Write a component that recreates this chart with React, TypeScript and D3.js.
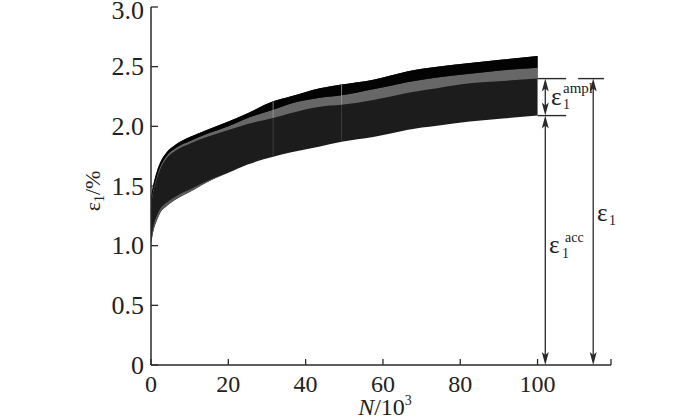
import React from "react";
import * as d3 from "d3";

// ---- data ----
const cycles = [0, 0.3, 0.6, 1.5, 2.3, 4, 6.5, 10, 14.4, 20, 25, 31.6, 36, 43.7, 49.3, 57.5, 62, 66.2, 74, 82.5, 91, 100];
const upperStrain = [1.40, 1.46, 1.51, 1.62, 1.69, 1.78, 1.85, 1.91, 1.97, 2.04, 2.11, 2.21, 2.25, 2.32, 2.35, 2.39, 2.425, 2.46, 2.50, 2.53, 2.56, 2.59];
const grayTop = [1.36, 1.42, 1.47, 1.58, 1.655, 1.75, 1.82, 1.875, 1.935, 2.00, 2.07, 2.14, 2.19, 2.24, 2.26, 2.31, 2.34, 2.37, 2.41, 2.44, 2.47, 2.49];
const grayBottom = [1.34, 1.40, 1.45, 1.56, 1.635, 1.73, 1.80, 1.855, 1.91, 1.97, 2.02, 2.07, 2.11, 2.165, 2.18, 2.22, 2.25, 2.28, 2.32, 2.36, 2.38, 2.40];
const lowerStrain = [1.02, 1.07, 1.12, 1.21, 1.27, 1.33, 1.39, 1.45, 1.53, 1.61, 1.68, 1.745, 1.78, 1.83, 1.87, 1.91, 1.94, 1.97, 2.005, 2.04, 2.065, 2.09];
const lowerFringeTop = [1.06, 1.11, 1.16, 1.25, 1.305, 1.36, 1.415, 1.47, 1.54, 1.61, 1.68, 1.745, 1.78, 1.83, 1.87, 1.91, 1.94, 1.97, 2.005, 2.04, 2.065, 2.09];
const gapCycles = [31.6, 49.3];

const xTicks = [0, 20, 40, 60, 80, 100];
const yTicks = [0, 0.5, 1.0, 1.5, 2.0, 2.5, 3.0];
const yTickLabels = ["0", "0.5", "1.0", "1.5", "2.0", "2.5", "3.0"];

const accArrowN = 102;
const totArrowN = 114.4;

type Row = { n: number; up: number; gt: number; gb: number; lo: number; fr: number };

export default function App() {
  const W = 700, H = 420;
  const x = d3.scaleLinear().domain([0, 119]).range([151, 611]);
  const y = d3.scaleLinear().domain([0, 3]).range([365, 7]);

  const rows: Row[] = cycles.map((n, i) => ({
    n,
    up: upperStrain[i],
    gt: grayTop[i],
    gb: grayBottom[i],
    lo: lowerStrain[i],
    fr: lowerFringeTop[i],
  }));

  const mk = (a: (r: Row) => number, b: (r: Row) => number) =>
    d3.area<Row>().x((r) => x(r.n)).y0((r) => y(a(r))).y1((r) => y(b(r))).curve(d3.curveMonotoneX)(rows) || "";

  const bandPath = mk((r) => r.lo, (r) => r.up);
  const fringePath = mk((r) => r.lo, (r) => r.fr);
  const grayPath = mk((r) => r.gb, (r) => r.gt);
  const blackPath = mk((r) => r.gt, (r) => r.up);

  const interp = (arr: number[], n: number) => {
    const i = d3.bisectRight(cycles, n) - 1;
    const j = Math.min(i + 1, cycles.length - 1);
    if (i === j) return arr[i];
    const t = (n - cycles[i]) / (cycles[j] - cycles[i]);
    return arr[i] + t * (arr[j] - arr[i]);
  };

  const last = cycles.length - 1;
  const yAmplTop = y(grayBottom[last]);
  const yAccTop = y(lowerStrain[last]);
  const y0 = y(0);
  const xEnd = x(cycles[last]);
  const xa = x(accArrowN);
  const xt = x(totArrowN);

  const head = (cx: number, tip: number, up: boolean) => {
    const s = up ? 1 : -1;
    return `M${cx},${tip} L${cx - 3.5},${tip + s * 13} L${cx},${tip + s * 10} L${cx + 3.5},${tip + s * 13} Z`;
  };

  const serif = '"Liberation Serif", "Times New Roman", Times, "DejaVu Serif", serif';
  const ink = "#2a2a2a";
  const txt = { fontFamily: serif };

  return (
    <svg width={W} height={H} style={{ position: "absolute", left: 0, top: 0, background: "#fff" }}>
      {/* band */}
      <path d={bandPath} fill="#1c1c1c" />
      <path d={fringePath} fill="#5a5a5a" />
      <path d={grayPath} fill="#676767" />
      <path d={blackPath} fill="#030303" />
      {gapCycles.map((n) => (
        <g key={n}>
          <line x1={x(n)} x2={x(n)} y1={y(interp(grayBottom, n))} y2={y(interp(upperStrain, n))}
            stroke="#9a9a9a" strokeWidth={1} opacity={0.8} />
          <line x1={x(n)} x2={x(n)} y1={y(interp(lowerStrain, n))} y2={y(interp(grayBottom, n))}
            stroke="#3c3c3c" strokeWidth={1} />
        </g>
      ))}

      {/* axes */}
      <line x1={x(0)} x2={x(119)} y1={y0} y2={y0} stroke={ink} strokeWidth={1.5} />
      <line x1={x(0)} x2={x(0)} y1={y0} y2={y(3)} stroke={ink} strokeWidth={1.5} />
      {xTicks.concat([119]).map((t) => (
        <line key={"xt" + t} x1={x(t)} x2={x(t)} y1={y0} y2={y0 - 6} stroke={ink} strokeWidth={1.3} />
      ))}
      {yTicks.map((t) => (
        <line key={"yt" + t} x1={x(0)} x2={x(0) + 7} y1={y(t)} y2={y(t)} stroke={ink} strokeWidth={1.3} />
      ))}
      {xTicks.map((t) => (
        <text key={"xl" + t} x={x(t)} y={392} textAnchor="middle" style={txt} fontSize={24} fill="#222">
          {t}
        </text>
      ))}
      {yTicks.map((t, i) => (
        <text key={"yl" + t} x={144} y={Math.max(y(t) + 8.5, 19)} textAnchor="end" style={txt} fontSize={26} fill="#222">
          {yTickLabels[i]}
        </text>
      ))}

      {/* axis titles */}
      <text x={385} y={415} textAnchor="middle" style={txt} fontSize={24} fill="#222">
        <tspan fontStyle="italic">N</tspan>
        <tspan>/10</tspan>
        <tspan fontSize={14} dy={-10}>3</tspan>
      </text>
      <text transform="translate(100,191) rotate(-90)" textAnchor="middle" style={txt} fontSize={22} fill="#222">
        <tspan>ε</tspan>
        <tspan fontSize={14} dy={4}>1</tspan>
        <tspan dy={-4}>/%</tspan>
      </text>

      {/* annotation guide lines */}
      <line x1={xEnd} x2={x(107.4)} y1={yAmplTop} y2={yAmplTop} stroke={ink} strokeWidth={1.4} />
      <line x1={x(110.5)} x2={x(117.2)} y1={yAmplTop} y2={yAmplTop} stroke={ink} strokeWidth={1.4} />
      <line x1={xEnd} x2={x(107.4)} y1={yAccTop} y2={yAccTop} stroke={ink} strokeWidth={1.4} />

      {/* amplitude arrow */}
      <line x1={xa} x2={xa} y1={yAmplTop + 4} y2={yAccTop - 4} stroke={ink} strokeWidth={1.3} />
      <path d={head(xa, yAmplTop, true)} fill={ink} />
      <path d={head(xa, yAccTop, false)} fill={ink} />
      {/* accumulated arrow */}
      <line x1={xa} x2={xa} y1={yAccTop + 4} y2={y0 - 4} stroke={ink} strokeWidth={1.3} />
      <path d={head(xa, yAccTop, true)} fill={ink} />
      <path d={head(xa, y0, false)} fill={ink} />
      {/* total arrow */}
      <line x1={xt} x2={xt} y1={yAmplTop + 4} y2={y0 - 4} stroke={ink} strokeWidth={1.3} />
      <path d={head(xt, yAmplTop, true)} fill={ink} />
      <path d={head(xt, y0, false)} fill={ink} />

      {/* labels */}
      <g style={txt} fill="#222">
        <text x={551} y={105} fontSize={25}>ε</text>
        <text x={563} y={109} fontSize={14}>1</text>
        <text x={563} y={93} fontSize={15}>ampl</text>

        <text x={549} y={253} fontSize={25}>ε</text>
        <text x={562} y={258} fontSize={14}>1</text>
        <text x={565} y={242} fontSize={14}>acc</text>

        <text x={597} y={221} fontSize={25}>ε</text>
        <text x={609} y={225} fontSize={14}>1</text>
      </g>
    </svg>
  );
}
